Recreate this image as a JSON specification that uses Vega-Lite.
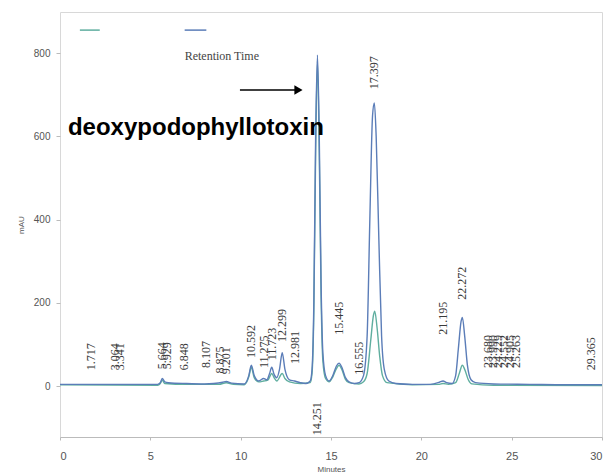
{
  "$schema": "https://vega.github.io/schema/vega-lite/v6.json",
  "autosize": {"type": "none"},
  "padding": {"left": 60, "top": 12, "right": 8, "bottom": 35},
  "width": 542,
  "height": 425,
  "background": "white",
  "config": {
    "view": {"stroke": "#d8d8d8", "strokeWidth": 1},
    "axis": {"domainColor": "#bbbbbb", "tickColor": "#bbbbbb", "labelColor": "#555555", "titleColor": "#555555", "labelFont": "Liberation Sans", "titleFont": "Liberation Sans", "grid": false}
  },
  "datasets": {
    "traces": [
      {"t": 0, "v": 3, "s": "teal"}, {"t": 5.4, "v": 2, "s": "teal"}, {"t": 5.55, "v": 6, "s": "teal"}, {"t": 5.66, "v": 14, "s": "teal"}, {"t": 5.8, "v": 6, "s": "teal"}, {"t": 7, "v": 4, "s": "teal"}, {"t": 8.8, "v": 4, "s": "teal"}, {"t": 9.2, "v": 8, "s": "teal"}, {"t": 9.6, "v": 4, "s": "teal"}, {"t": 10.2, "v": 3, "s": "teal"}, {"t": 10.45, "v": 22, "s": "teal"}, {"t": 10.59, "v": 45, "s": "teal"}, {"t": 10.75, "v": 20, "s": "teal"}, {"t": 11.0, "v": 10, "s": "teal"}, {"t": 11.27, "v": 12, "s": "teal"}, {"t": 11.5, "v": 14, "s": "teal"}, {"t": 11.72, "v": 30, "s": "teal"}, {"t": 11.85, "v": 20, "s": "teal"}, {"t": 12.0, "v": 12, "s": "teal"}, {"t": 12.3, "v": 30, "s": "teal"}, {"t": 12.45, "v": 18, "s": "teal"}, {"t": 12.7, "v": 10, "s": "teal"}, {"t": 13.3, "v": 6, "s": "teal"}, {"t": 13.85, "v": 8, "s": "teal"}, {"t": 13.95, "v": 30, "s": "teal"}, {"t": 14.05, "v": 180, "s": "teal"}, {"t": 14.15, "v": 560, "s": "teal"}, {"t": 14.25, "v": 780, "s": "teal"}, {"t": 14.35, "v": 560, "s": "teal"}, {"t": 14.45, "v": 220, "s": "teal"}, {"t": 14.55, "v": 60, "s": "teal"}, {"t": 14.7, "v": 18, "s": "teal"}, {"t": 14.9, "v": 10, "s": "teal"}, {"t": 15.1, "v": 22, "s": "teal"}, {"t": 15.3, "v": 42, "s": "teal"}, {"t": 15.445, "v": 50, "s": "teal"}, {"t": 15.6, "v": 40, "s": "teal"}, {"t": 15.8, "v": 16, "s": "teal"}, {"t": 16.0, "v": 8, "s": "teal"}, {"t": 16.55, "v": 5, "s": "teal"}, {"t": 16.8, "v": 10, "s": "teal"}, {"t": 17.0, "v": 30, "s": "teal"}, {"t": 17.2, "v": 110, "s": "teal"}, {"t": 17.35, "v": 170, "s": "teal"}, {"t": 17.42, "v": 180, "s": "teal"}, {"t": 17.55, "v": 140, "s": "teal"}, {"t": 17.7, "v": 70, "s": "teal"}, {"t": 17.85, "v": 25, "s": "teal"}, {"t": 18.1, "v": 8, "s": "teal"}, {"t": 19.5, "v": 3, "s": "teal"}, {"t": 21.0, "v": 4, "s": "teal"}, {"t": 21.2, "v": 6, "s": "teal"}, {"t": 21.5, "v": 4, "s": "teal"}, {"t": 21.9, "v": 8, "s": "teal"}, {"t": 22.1, "v": 30, "s": "teal"}, {"t": 22.27, "v": 50, "s": "teal"}, {"t": 22.4, "v": 40, "s": "teal"}, {"t": 22.6, "v": 15, "s": "teal"}, {"t": 22.8, "v": 5, "s": "teal"}, {"t": 24, "v": 2, "s": "teal"}, {"t": 30, "v": 1, "s": "teal"},
      {"t": 0, "v": 4, "s": "blue"}, {"t": 5.4, "v": 4, "s": "blue"}, {"t": 5.55, "v": 8, "s": "blue"}, {"t": 5.66, "v": 18, "s": "blue"}, {"t": 5.8, "v": 10, "s": "blue"}, {"t": 6.0, "v": 8, "s": "blue"}, {"t": 7, "v": 6, "s": "blue"}, {"t": 8, "v": 5, "s": "blue"}, {"t": 8.5, "v": 6, "s": "blue"}, {"t": 9.0, "v": 9, "s": "blue"}, {"t": 9.2, "v": 11, "s": "blue"}, {"t": 9.5, "v": 7, "s": "blue"}, {"t": 10.2, "v": 5, "s": "blue"}, {"t": 10.45, "v": 25, "s": "blue"}, {"t": 10.59, "v": 50, "s": "blue"}, {"t": 10.75, "v": 25, "s": "blue"}, {"t": 11.0, "v": 12, "s": "blue"}, {"t": 11.27, "v": 18, "s": "blue"}, {"t": 11.45, "v": 15, "s": "blue"}, {"t": 11.6, "v": 30, "s": "blue"}, {"t": 11.72, "v": 45, "s": "blue"}, {"t": 11.85, "v": 28, "s": "blue"}, {"t": 12.0, "v": 20, "s": "blue"}, {"t": 12.15, "v": 40, "s": "blue"}, {"t": 12.3, "v": 80, "s": "blue"}, {"t": 12.45, "v": 40, "s": "blue"}, {"t": 12.7, "v": 15, "s": "blue"}, {"t": 12.98, "v": 12, "s": "blue"}, {"t": 13.3, "v": 8, "s": "blue"}, {"t": 13.6, "v": 6, "s": "blue"}, {"t": 13.85, "v": 12, "s": "blue"}, {"t": 13.95, "v": 40, "s": "blue"}, {"t": 14.05, "v": 200, "s": "blue"}, {"t": 14.15, "v": 600, "s": "blue"}, {"t": 14.25, "v": 795, "s": "blue"}, {"t": 14.35, "v": 600, "s": "blue"}, {"t": 14.45, "v": 250, "s": "blue"}, {"t": 14.55, "v": 80, "s": "blue"}, {"t": 14.7, "v": 25, "s": "blue"}, {"t": 14.9, "v": 12, "s": "blue"}, {"t": 15.1, "v": 25, "s": "blue"}, {"t": 15.3, "v": 48, "s": "blue"}, {"t": 15.445, "v": 55, "s": "blue"}, {"t": 15.6, "v": 45, "s": "blue"}, {"t": 15.8, "v": 20, "s": "blue"}, {"t": 16.0, "v": 10, "s": "blue"}, {"t": 16.3, "v": 6, "s": "blue"}, {"t": 16.55, "v": 8, "s": "blue"}, {"t": 16.8, "v": 25, "s": "blue"}, {"t": 17.0, "v": 120, "s": "blue"}, {"t": 17.15, "v": 400, "s": "blue"}, {"t": 17.3, "v": 650, "s": "blue"}, {"t": 17.4, "v": 680, "s": "blue"}, {"t": 17.5, "v": 600, "s": "blue"}, {"t": 17.65, "v": 350, "s": "blue"}, {"t": 17.8, "v": 120, "s": "blue"}, {"t": 17.95, "v": 40, "s": "blue"}, {"t": 18.2, "v": 12, "s": "blue"}, {"t": 18.6, "v": 6, "s": "blue"}, {"t": 19.5, "v": 4, "s": "blue"}, {"t": 20.5, "v": 4, "s": "blue"}, {"t": 21.0, "v": 9, "s": "blue"}, {"t": 21.2, "v": 12, "s": "blue"}, {"t": 21.4, "v": 8, "s": "blue"}, {"t": 21.7, "v": 6, "s": "blue"}, {"t": 21.9, "v": 25, "s": "blue"}, {"t": 22.05, "v": 90, "s": "blue"}, {"t": 22.2, "v": 155, "s": "blue"}, {"t": 22.27, "v": 165, "s": "blue"}, {"t": 22.4, "v": 120, "s": "blue"}, {"t": 22.55, "v": 50, "s": "blue"}, {"t": 22.75, "v": 15, "s": "blue"}, {"t": 23.0, "v": 8, "s": "blue"}, {"t": 24, "v": 5, "s": "blue"}, {"t": 26, "v": 4, "s": "blue"}, {"t": 28, "v": 3, "s": "blue"}, {"t": 30, "v": 3, "s": "blue"}
    ],
    "peaks": [
      {"t": 1.717, "pos": 38, "label": "1.717"},
      {"t": 3.064, "pos": 38, "label": "3.064"},
      {"t": 3.341, "pos": 38, "label": "3.341"},
      {"t": 5.664, "pos": 40, "label": "5.664"},
      {"t": 5.929, "pos": 40, "label": "5.929"},
      {"t": 6.848, "pos": 38, "label": "6.848"},
      {"t": 8.107, "pos": 43, "label": "8.107"},
      {"t": 8.875, "pos": 30, "label": "8.875"},
      {"t": 9.201, "pos": 28, "label": "9.201"},
      {"t": 10.592, "pos": 67, "label": "10.592"},
      {"t": 11.275, "pos": 43, "label": "11.275"},
      {"t": 11.723, "pos": 62, "label": "11.723"},
      {"t": 12.299, "pos": 106, "label": "12.299"},
      {"t": 12.981, "pos": 53, "label": "12.981"},
      {"t": 14.251, "pos": -118, "label": "14.251"},
      {"t": 15.445, "pos": 123, "label": "15.445"},
      {"t": 16.555, "pos": 27, "label": "16.555"},
      {"t": 17.397, "pos": 713, "label": "17.397"},
      {"t": 21.195, "pos": 123, "label": "21.195"},
      {"t": 22.272, "pos": 207, "label": "22.272"},
      {"t": 23.68, "pos": 43, "label": "23.680"},
      {"t": 23.99, "pos": 43, "label": "23.990"},
      {"t": 24.229, "pos": 43, "label": "24.229"},
      {"t": 24.552, "pos": 43, "label": "24.552"},
      {"t": 24.905, "pos": 43, "label": "24.905"},
      {"t": 25.263, "pos": 43, "label": "25.263"},
      {"t": 29.365, "pos": 38, "label": "29.365"}
    ],
    "legendSegs": [
      {"x1": 1.1, "x2": 2.2, "y": 855, "s": "teal"},
      {"x1": 6.9, "x2": 8.1, "y": 855, "s": "blue"}
    ],
    "notes": [
      {"x": 6.9, "y": 792, "text": "Retention Time"}
    ],
    "arrow": [
      {"x1": 9.96, "x2": 13.2, "y": 711}
    ],
    "compound": [
      {"x": 0.44, "y": 619, "text": "deoxypodophyllotoxin"}
    ]
  },
  "layer": [
    {
      "data": {"name": "traces"},
      "mark": {"type": "line", "strokeWidth": 1.4, "interpolate": "monotone"},
      "encoding": {
        "x": {"field": "t", "type": "quantitative", "scale": {"domain": [0, 30], "nice": false, "zero": false}, "axis": {"values": [0, 5, 10, 15, 20, 25, 30], "title": "Minutes", "titleFontSize": 8, "titleFontWeight": "normal", "labelFontSize": 11, "tickSize": 3, "labelPadding": 10, "titlePadding": 4}},
        "y": {"field": "v", "type": "quantitative", "scale": {"domain": [-122.5, 898.5], "nice": false, "zero": false}, "axis": {"values": [0, 200, 400, 600, 800], "title": "mAU", "titleFontSize": 8, "titleFontWeight": "normal", "labelFontSize": 10, "tickSize": 4, "labelPadding": 6, "titlePadding": 8, "domain": false}},
        "color": {"field": "s", "type": "nominal", "scale": {"domain": ["teal", "blue"], "range": ["#5fae9f", "#5b7db8"]}, "legend": null},
        "order": {"field": "t", "type": "quantitative"}
      }
    },
    {
      "data": {"name": "peaks"},
      "mark": {"type": "text", "angle": 270, "align": "left", "baseline": "middle", "font": "Liberation Serif", "fontSize": 12, "color": "#3a3a3a"},
      "encoding": {
        "x": {"field": "t", "type": "quantitative"},
        "y": {"field": "pos", "type": "quantitative"},
        "text": {"field": "label"}
      }
    },
    {
      "data": {"name": "legendSegs"},
      "mark": {"type": "rule", "strokeWidth": 1.5},
      "encoding": {
        "x": {"field": "x1", "type": "quantitative"},
        "x2": {"field": "x2"},
        "y": {"field": "y", "type": "quantitative"},
        "color": {"field": "s", "type": "nominal", "legend": null}
      }
    },
    {
      "data": {"name": "notes"},
      "mark": {"type": "text", "align": "left", "baseline": "middle", "font": "Liberation Serif", "fontSize": 12, "color": "#444444"},
      "encoding": {
        "x": {"field": "x", "type": "quantitative"},
        "y": {"field": "y", "type": "quantitative"},
        "text": {"field": "text"}
      }
    },
    {
      "data": {"name": "arrow"},
      "mark": {"type": "rule", "strokeWidth": 1.5, "color": "black"},
      "encoding": {
        "x": {"field": "x1", "type": "quantitative"},
        "x2": {"field": "x2"},
        "y": {"field": "y", "type": "quantitative"}
      }
    },
    {
      "data": {"name": "arrow"},
      "mark": {"type": "point", "shape": "triangle-right", "filled": true, "size": 90, "color": "black", "opacity": 1},
      "encoding": {
        "x": {"field": "x2", "type": "quantitative"},
        "y": {"field": "y", "type": "quantitative"}
      }
    },
    {
      "data": {"name": "compound"},
      "mark": {"type": "text", "align": "left", "baseline": "middle", "font": "Liberation Sans", "fontWeight": "bold", "fontSize": 24, "color": "black"},
      "encoding": {
        "x": {"field": "x", "type": "quantitative"},
        "y": {"field": "y", "type": "quantitative"},
        "text": {"field": "text"}
      }
    }
  ]
}
